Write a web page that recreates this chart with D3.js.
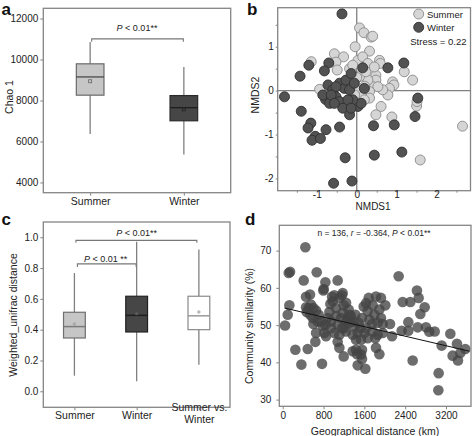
<!DOCTYPE html>
<html><head><meta charset="utf-8">
<script src="https://cdn.jsdelivr.net/npm/d3@7"></script>
<style>body{margin:0;background:#fff}svg{display:block;font-family:"Liberation Sans",Arial,sans-serif}</style>
</head><body><svg id="chart" width="472" height="436"></svg>
<script>
// ---------- DATA ----------
// Panel a: Chao 1
const chaoCats = ["Summer", "Winter"];
const chaoMin  = [6370, 5360];
const chaoQ1   = [8260, 7010];
const chaoMed  = [9150, 7650];
const chaoQ3   = [9790, 8240];
const chaoMax  = [10850, 9630];
const chaoMean = [8940, 7570];
const chaoTicks = [4000, 6000, 8000, 10000, 12000];

// Panel b: NMDS
const summerPts = [[0.07,1.43],[0.18,1.32],[0.36,1.22],[0.40,1.24],[-0.04,1.0],[0.32,0.9],[-0.56,0.84],[-0.33,0.77],[-0.52,0.65],[-1.14,0.66],[-0.49,0.47],[-0.18,0.5],[0.03,0.69],[0.15,0.77],[0.28,0.62],[0.57,0.69],[0.59,0.62],[1.19,0.43],[1.40,0.24],[0.90,0.2],[0.93,0.13],[0.82,0.05],[0.78,-0.1],[0.48,0.35],[0.48,0.24],[0.65,0.02],[0.40,0.09],[0.53,0.09],[0.28,0.24],[0.32,-0.02],[0.15,-0.14],[0.32,-0.17],[0.11,-0.06],[-0.93,0.03],[-0.02,0.02],[0.07,0.32],[0.61,-0.36],[0.48,-0.55],[0.88,-0.6],[1.50,-0.35],[1.51,-0.25],[2.65,-0.81],[1.59,-1.58],[0.19,-0.21],[-0.10,0.58],[0.23,0.43],[0.44,0.54],[0.0,0.3],[0.2,0.1],[-0.05,-0.1]];
const winterPts = [[-0.37,1.75],[-1.2,0.58],[-1.42,0.33],[-1.81,-0.14],[-1.39,-0.47],[-1.15,-0.74],[-1.22,-0.85],[-1.04,-1.04],[-1.12,-1.13],[-0.91,-1.09],[-0.77,-0.89],[-0.43,-0.83],[-0.29,-1.53],[-0.58,-2.11],[-0.12,-2.06],[0.44,-1.47],[1.13,-1.40],[0.42,-0.80],[0.94,-0.78],[1.46,-0.59],[1.53,-0.17],[1.18,0.63],[0.78,0.52],[0.15,0.52],[-0.70,0.63],[-0.81,0.45],[-0.72,0.13],[-0.6,0.02],[-0.78,-0.2],[-0.68,-0.29],[-0.52,-0.14],[-0.43,0.17],[-0.31,0.05],[-0.27,0.24],[-0.14,0.39],[-0.18,0.02],[-0.06,0.17],[-0.43,-0.25],[-0.35,-0.4],[-0.18,-0.55],[0.03,-0.36],[0.11,-0.29],[0.19,0.05],[-0.1,-0.21],[-0.52,0.09],[-0.85,-0.1],[-0.64,-0.1],[-0.56,-0.29],[-0.22,-0.21],[-0.14,-0.4]];
const nmdsXTicks = [-1.5,-1,-0.5,0,0.5,1,1.5,2,2.5];
const nmdsYTicks = [-2,-1.5,-1,-0.5,0,0.5,1,1.5];
const nmdsStress = "Stress = 0.22";

// Panel c: Weighted unifrac distance
const uniCats = ["Summer", "Winter", "Summer vs. Winter"];
const uniMin  = [0.101, 0.065, 0.173];
const uniQ1   = [0.346, 0.385, 0.400];
const uniMed  = [0.420, 0.493, 0.490];
const uniQ3   = [0.513, 0.617, 0.617];
const uniMax  = [0.768, 0.970, 0.920];
const uniMean = [0.437, 0.504, 0.515];
const uniTicks = [0.0, 0.2, 0.4, 0.6, 0.8, 1.0];

// Panel d: distance-decay
const geoSim = [[444,70.9],[118,64.0],[144,64.3],[666,64.2],[411,62.0],[1077,62.0],[2272,63.1],[836,61.5],[803,59.7],[797,59.3],[1175,58.6],[1162,58.0],[966,57.6],[457,57.6],[535,58.2],[2631,59.3],[2664,57.3],[2351,56.2],[2501,56.2],[2782,54.8],[2697,53.0],[2645,49.4],[2808,49.4],[2873,48.2],[2978,48.3],[2462,50.8],[2331,48.5],[2462,48.5],[2547,40.5],[3285,47.7],[3415,45.0],[3578,43.6],[3480,42.5],[3330,41.8],[3435,40.5],[3056,37.1],[3050,32.5],[3115,44.5],[2011,55.3],[1763,55.3],[1685,57.3],[1828,57.7],[1926,57.3],[1894,54.2],[1926,51.9],[2103,50.3],[2142,47.0],[1959,47.9],[1861,47.4],[1894,42.2],[1828,43.9],[1619,38.3],[1535,42.1],[1469,39.2],[1456,42.2],[1554,40.9],[1371,43.0],[1195,41.6],[1110,43.9],[1077,45.5],[770,39.6],[366,39.4],[248,43.4],[490,43.6],[46,49.9],[98,52.8],[131,55.3],[457,54.8],[470,53.5],[509,54.6],[555,55.5],[601,54.6],[653,53.9],[705,52.8],[601,50.3],[653,47.9],[640,45.5],[816,47.9],[849,47.0],[784,49.7],[882,51.9],[947,51.0],[914,53.5],[1045,54.6],[980,56.4],[1045,52.4],[1077,50.1],[1143,51.9],[1175,53.3],[1208,49.2],[1241,48.3],[1306,50.6],[1339,52.4],[1404,49.7],[1371,47.4],[1437,46.1],[1469,47.9],[1515,49.2],[1554,51.9],[1587,55.0],[1633,55.9],[1665,53.7],[1698,51.5],[1750,50.3],[1600,47.9],[1665,46.5],[1535,46.1],[1815,46.5],[1110,57.3],[1195,55.3],[1293,54.2],[947,49.2],[1012,47.9],[1110,47.4],[1162,49.2],[1273,51.9],[1424,52.8],[1384,51.0],[751,51.0],[836,50.1],[542,52.8],[588,51.9],[686,51.0],[1241,51.0],[1306,52.8],[1489,50.6],[1633,49.2],[1763,48.3],[1861,50.6],[1959,50.3],[1796,52.8],[1437,43.4],[1554,43.4],[1012,58.0],[934,55.7],[1241,56.0]];
const fitIntercept = 54.7, fitSlope = -0.0032;
const fitRange = [33, 3657];
const geoXTicks = [0, 800, 1600, 2400, 3200];
const geoYTicks = [30, 40, 50, 60, 70];

// ---------- DRAW ----------
const svg = d3.select("#chart");
const FRAME = "#858585", TXT = "#222";
const plain = d3.format("d");

function styleAxis(g, fs) {
  g.select(".domain").remove();
  g.selectAll(".tick line").attr("stroke", FRAME).attr("stroke-width", 1);
  g.selectAll(".tick text").attr("fill", TXT).style("font-size", (fs || 10) + "px")
    .style("font-family", '"Liberation Sans",Arial,sans-serif');
}
function frame(p) {
  svg.append("rect").attr("x", p.l).attr("y", p.t).attr("width", p.r - p.l).attr("height", p.b - p.t)
    .attr("fill", "none").attr("stroke", FRAME).attr("stroke-width", 1.3);
}
function panelLabel(t, x, y) {
  svg.append("text").attr("x", x).attr("y", y).text(t).attr("font-weight", "bold")
    .style("font-size", "17px").attr("fill", "#111");
}
function yTitle(t, x, y, fs) {
  svg.append("text").attr("transform", `translate(${x},${y}) rotate(-90)`).attr("text-anchor", "middle")
    .style("font-size", (fs || 10.5) + "px").attr("fill", TXT).text(t);
}
function pText(x, y, parts, fs) {
  const t = svg.append("text").attr("x", x).attr("y", y).attr("text-anchor", "middle")
    .style("font-size", (fs || 9) + "px").attr("fill", "#222");
  parts.forEach(p => t.append("tspan").attr("font-style", p[1] ? "italic" : "normal").text(p[0]));
  return t;
}
function bracket(x1, x2, y, drop) {
  svg.append("path").attr("d", `M${x1},${y + drop}V${y}H${x2}V${y + drop}`)
    .attr("fill", "none").attr("stroke", "#777").attr("stroke-width", 1.1);
}

// ===== Panel a =====
{
  const p = {l: 43.3, r: 230.7, t: 8.3, b: 192.7};
  const y = d3.scaleLinear().domain([3500, 12500]).range([p.b, p.t]);
  const x = d3.scalePoint().domain(chaoCats).range([p.l, p.r]).padding(0.5);
  const bw = x.step() * 0.295;
  const fills = ["#c6c6c6", "#464646"], strokes = ["#6a6a6a", "#2a2a2a"], meds = ["#4a4a4a", "#1e1e1e"];
  chaoCats.forEach((c, i) => {
    const cx = x(c);
    svg.append("line").attr("x1", cx).attr("x2", cx).attr("y1", y(chaoMin[i])).attr("y2", y(chaoMax[i]))
      .attr("stroke", "#808080").attr("stroke-width", 1.3);
    svg.append("rect").attr("x", cx - bw / 2).attr("width", bw).attr("y", y(chaoQ3[i]))
      .attr("height", y(chaoQ1[i]) - y(chaoQ3[i])).attr("fill", fills[i]).attr("stroke", strokes[i]).attr("stroke-width", 1.2);
    svg.append("line").attr("x1", cx - bw / 2).attr("x2", cx + bw / 2).attr("y1", y(chaoMed[i])).attr("y2", y(chaoMed[i]))
      .attr("stroke", meds[i]).attr("stroke-width", 1.3);
    svg.append("rect").attr("x", cx - 1.5).attr("y", y(chaoMean[i]) - 1.5).attr("width", 3).attr("height", 3)
      .attr("fill", "none").attr("stroke", i ? "#222" : "#666").attr("stroke-width", 0.8);
  });
  frame(p);
  svg.append("g").attr("transform", `translate(${p.l},0)`)
    .call(d3.axisLeft(y).tickValues(chaoTicks).tickFormat(plain).tickSize(3).tickPadding(2)).call(g => styleAxis(g, 10));
  svg.append("g").attr("transform", `translate(0,${p.b})`)
    .call(d3.axisBottom(x).tickSize(3).tickPadding(2)).call(g => styleAxis(g, 10.5));
  yTitle("Chao 1", 13, 97, 10.5);
  bracket(x("Summer") + 1.5, x("Winter") - 0.5, y(11010), 3);
  pText((x("Summer") + x("Winter")) / 2, 31, [["P", true], [" < 0.01**", false]], 9);
  panelLabel("a", 1.5, 15);
}

// ===== Panel b =====
{
  const p = {l: 277.7, r: 470.5, t: 7.7, b: 190.7};
  const x = d3.scaleLinear().domain([-1.98, 2.85]).range([p.l, p.r]);
  const y = d3.scaleLinear().domain([-2.28, 1.89]).range([p.b, p.t]);
  svg.append("line").attr("x1", x(0)).attr("x2", x(0)).attr("y1", p.t).attr("y2", p.b).attr("stroke", "#808080").attr("stroke-width", 1.3);
  svg.append("line").attr("x1", p.l).attr("x2", p.r).attr("y1", y(0)).attr("y2", y(0)).attr("stroke", "#808080").attr("stroke-width", 1.3);
  svg.append("g").selectAll("circle").data(summerPts).join("circle")
    .attr("cx", d => x(d[0])).attr("cy", d => y(d[1])).attr("r", 5)
    .attr("fill", "#d5d5d5").attr("stroke", "#8a8a8a").attr("stroke-width", 0.9);
  svg.append("g").selectAll("circle").data(winterPts).join("circle")
    .attr("cx", d => x(d[0])).attr("cy", d => y(d[1])).attr("r", 5)
    .attr("fill", "#525252").attr("stroke", "#303030").attr("stroke-width", 0.9);
  frame(p);
  const fmt = d => Number.isInteger(d) ? String(d) : "";
  svg.append("g").attr("transform", `translate(${p.l},0)`)
    .call(d3.axisLeft(y).tickValues(nmdsYTicks).tickSize(2).tickPadding(2).tickFormat(fmt)).call(g => styleAxis(g, 10));
  svg.append("g").attr("transform", `translate(0,${p.b})`)
    .call(d3.axisBottom(x).tickValues(nmdsXTicks).tickSize(2).tickPadding(-1.5).tickFormat(fmt)).call(g => styleAxis(g, 10));
  svg.append("text").attr("x", (p.l + p.r) / 2 - 1).attr("y", 209.5).attr("text-anchor", "middle")
    .style("font-size", "10px").attr("fill", TXT).text("NMDS1");
  yTitle("NMDS2", 258.5, 95, 10.5);
  // legend
  const leg = [["Summer", "#d5d5d5", "#8a8a8a"], ["Winter", "#525252", "#303030"]];
  leg.forEach((l, i) => {
    svg.append("circle").attr("cx", 418.7).attr("cy", 14 + i * 13.3).attr("r", 5)
      .attr("fill", l[1]).attr("stroke", l[2]).attr("stroke-width", 0.9);
    svg.append("text").attr("x", 427).attr("y", 17.5 + i * 13.3).style("font-size", "9.5px").attr("fill", TXT).text(l[0]);
  });
  svg.append("text").attr("x", 466.5).attr("y", 45).attr("text-anchor", "end").style("font-size", "9.5px").attr("fill", TXT).text(nmdsStress);
  panelLabel("b", 247, 15);
}

// ===== Panel c =====
{
  const p = {l: 43.3, r: 230, t: 222, b: 407.3};
  const y = d3.scaleLinear().domain([-0.104, 1.099]).range([p.b, p.t]);
  const x = d3.scalePoint().domain(uniCats).range([p.l, p.r]).padding(0.5);
  const bw = x.step() * 0.35;
  const fills = ["#c6c6c6", "#464646", "#ffffff"], strokes = ["#707070", "#222", "#8a8a8a"],
        meds = ["#7a7a7a", "#1e1e1e", "#999"], means = ["#a8a8a8", "#5a5a5a", "#b8b8b8"];
  uniCats.forEach((c, i) => {
    const cx = x(c);
    svg.append("line").attr("x1", cx).attr("x2", cx).attr("y1", y(uniMin[i])).attr("y2", y(uniMax[i]))
      .attr("stroke", "#808080").attr("stroke-width", 1.3);
    svg.append("rect").attr("x", cx - bw / 2).attr("width", bw).attr("y", y(uniQ3[i]))
      .attr("height", y(uniQ1[i]) - y(uniQ3[i])).attr("fill", fills[i]).attr("stroke", strokes[i]).attr("stroke-width", 1.2);
    svg.append("line").attr("x1", cx - bw / 2).attr("x2", cx + bw / 2).attr("y1", y(uniMed[i])).attr("y2", y(uniMed[i]))
      .attr("stroke", meds[i]).attr("stroke-width", 1.5);
    svg.append("circle").attr("cx", cx).attr("cy", y(uniMean[i])).attr("r", 1.7).attr("fill", means[i]);
  });
  frame(p);
  svg.append("g").attr("transform", `translate(${p.l},0)`)
    .call(d3.axisLeft(y).tickValues(uniTicks).tickFormat(d3.format(".1f")).tickSize(3).tickPadding(2)).call(g => styleAxis(g, 10));
  const xa = svg.append("g").attr("transform", `translate(0,${p.b})`)
    .call(d3.axisBottom(x).tickSize(3).tickPadding(1)).call(g => styleAxis(g, 10.5));
  xa.selectAll(".tick text").each(function(d) {
    if (d === "Summer vs. Winter") {
      const t = d3.select(this); t.text("");
      t.append("tspan").attr("x", 0).attr("dy", 0).text("Summer vs.");
      t.append("tspan").attr("x", 0).attr("dy", "1.1em").text("Winter");
    }
  });
  yTitle("Weighted_unifrac distance", 16.5, 315, 10.5);
  bracket(x(uniCats[0]) + 1.5, x(uniCats[2]) - 2, y(0.98), 2.5);
  pText((x(uniCats[0]) + x(uniCats[2])) / 2, 236, [["P", true], [" < 0.01**", false]], 9);
  bracket(x(uniCats[0]) + 3, x(uniCats[1]) - 0.5, y(0.827), 3);
  pText((x(uniCats[0]) + x(uniCats[1])) / 2, 261.5, [["P", true], [" < 0.01 **", false]], 9);
  panelLabel("c", 1.5, 225);
}

// ===== Panel d =====
{
  const p = {l: 279.3, r: 471, t: 225.3, b: 406.3};
  const x = d3.scaleLinear().domain([-67, 3690]).range([p.l, p.r]);
  const y = d3.scaleLinear().domain([28.2, 76.8]).range([p.b, p.t]);
  svg.append("g").selectAll("circle").data(geoSim).join("circle")
    .attr("cx", d => x(d[0])).attr("cy", d => y(d[1])).attr("r", 5.3)
    .attr("fill", "#444").attr("fill-opacity", 0.78);
  svg.append("line").attr("x1", x(fitRange[0])).attr("x2", x(fitRange[1]))
    .attr("y1", y(fitIntercept + fitSlope * fitRange[0])).attr("y2", y(fitIntercept + fitSlope * fitRange[1]))
    .attr("stroke", "#111").attr("stroke-width", 1);
  frame(p);
  svg.append("g").attr("transform", `translate(${p.l},0)`)
    .call(d3.axisLeft(y).tickValues(geoYTicks).tickFormat(plain).tickSize(3).tickPadding(5)).call(g => styleAxis(g, 10));
  svg.append("g").attr("transform", `translate(0,${p.b})`)
    .call(d3.axisBottom(x).tickValues(geoXTicks).tickFormat(plain).tickSize(3).tickPadding(3)).call(g => styleAxis(g, 10));
  svg.append("text").attr("x", 375).attr("y", 435).attr("text-anchor", "middle")
    .style("font-size", "10.5px").attr("fill", TXT).text("Geographical distance (km)");
  yTitle("Community similarity (%)", 253, 326, 10.5);
  pText(374, 235.5, [["n = 136,  ", false], ["r", true], [" = -0.364,  ", false], ["P", true], [" < 0.01**", false]], 8.5);
  panelLabel("d", 245, 225);
}
</script></body></html>
